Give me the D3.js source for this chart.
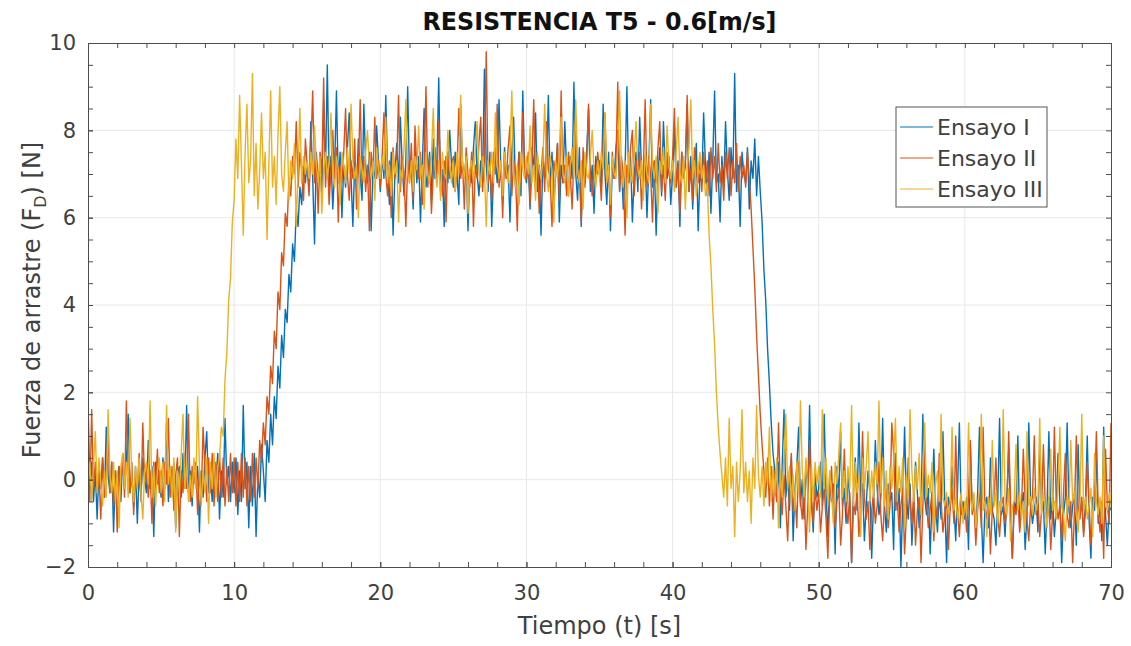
<!DOCTYPE html>
<html>
<head>
<meta charset="utf-8">
<script src="https://cdn.jsdelivr.net/npm/d3@7"></script>
<style>
  body { margin: 0; background: #fff; }
  svg { display: block; }
</style>
</head>
<body>
<script>
// Drag force measurements, sampled every 0.125 s from t = 0 to t = 70 s (one row = 5 s)
const sampleStep = 0.125;

const ensayo1 = [
  1.9,-0.3,0.4,-0.5,0.2,-0.9,0.3,-0.2,0.5,-0.4,1.2,0.1,-0.3,0.4,-1.2,0.2,-0.1,0.3,-0.5,0.6,-0.2,0.4,1.5,-0.3,0.1,-0.6,0.3,-1.0,0.2,-0.4,0.5,0.0,-0.3,0.9,-0.2,0.3,-1.3,0.4,-0.1,0.2,
  -0.4,0.5,-0.2,1.3,-0.5,0.2,-0.3,0.4,-1.1,0.1,0.3,-0.4,0.6,-0.2,1.7,-0.3,0.2,-0.6,0.4,-0.1,0.3,-1.2,0.2,-0.4,0.5,1.1,-0.3,0.1,-0.5,0.3,-0.2,0.6,-0.9,0.2,-0.4,1.4,-0.1,0.3,-0.5,0.4,
  -0.3,0.5,-0.8,0.2,-0.5,1.7,-0.2,0.4,-1.1,0.3,-0.6,0.6,-1.3,0.1,-0.4,0.8,0.2,-0.5,0.9,0.4,1.5,0.8,1.9,1.4,2.6,2.1,3.3,2.8,3.9,3.6,4.7,4.3,5.4,5.0,6.2,5.8,6.7,6.3,7.2,6.8,
  7.3,6.6,8.2,6.9,5.4,7.5,6.8,7.2,6.5,8.7,7.0,9.5,6.7,7.4,6.2,7.1,8.9,6.8,7.5,6.0,7.2,6.7,7.6,8.4,6.9,5.8,7.3,6.6,7.8,7.0,6.4,8.6,7.2,6.8,7.5,5.7,7.1,6.9,8.1,7.3,
  6.6,7.4,6.9,8.8,7.1,6.3,7.5,5.6,7.0,7.7,6.8,8.3,7.2,6.5,7.3,9.0,6.9,7.1,6.2,7.6,6.8,7.4,5.9,7.2,8.5,6.7,7.0,7.5,6.4,7.8,6.9,7.3,9.2,6.6,7.1,5.8,7.4,6.8,8.0,7.2,
  6.7,7.5,7.0,6.3,8.6,7.2,6.9,7.4,5.7,7.1,6.8,7.6,8.2,7.0,6.5,7.3,6.9,9.4,7.2,6.6,7.5,5.8,7.0,7.3,6.8,8.7,7.1,6.4,7.6,6.9,7.2,5.9,7.4,8.3,6.7,7.0,7.5,6.5,8.9,7.1,
  6.8,7.3,6.2,7.6,7.0,8.4,6.6,7.2,5.6,7.4,6.9,7.1,8.8,6.7,7.5,6.3,7.0,7.7,5.9,7.2,6.8,8.2,7.1,6.5,7.4,6.9,9.1,7.0,6.4,7.6,5.8,7.3,6.8,7.5,8.5,6.6,7.2,6.1,7.4,7.0,
  7.3,6.7,8.6,7.0,6.3,7.5,5.7,7.2,6.9,7.6,8.0,6.6,7.3,6.2,7.1,9.0,6.8,7.4,5.9,7.0,7.5,6.6,8.3,7.1,6.8,7.4,6.0,7.2,8.7,6.7,7.3,5.6,7.0,7.6,6.5,8.2,7.1,6.9,7.4,6.3,
  7.0,8.1,6.7,7.3,5.8,7.5,6.9,7.2,8.6,6.6,7.4,6.2,7.1,7.7,5.7,7.0,6.8,8.4,7.2,6.5,7.5,6.1,7.3,8.9,6.8,7.0,5.9,7.4,6.7,8.2,7.1,6.4,7.6,6.9,9.3,6.6,7.2,5.8,7.5,7.0,
  6.8,7.6,6.2,7.3,6.9,7.8,6.5,7.4,6.6,5.9,4.8,4.1,3.0,2.2,1.3,0.6,0.2,-0.5,0.4,-1.1,0.3,1.6,-0.4,0.1,-0.7,0.5,-1.4,-0.2,0.3,1.2,-0.6,0.0,-0.9,0.4,-0.3,1.7,-0.5,-1.2,0.2,-0.4,
  -0.2,0.4,-0.6,1.5,-0.3,-1.3,0.1,-0.5,-0.1,-1.7,0.3,-0.4,1.1,-0.6,-0.2,-1.0,0.2,-0.5,-1.9,-0.3,0.5,-0.7,1.3,-0.4,-0.1,-1.4,-0.6,0.2,-0.3,-1.8,-0.5,0.9,-0.2,-0.8,-0.4,1.4,-0.6,-1.2,-0.1,-0.5,
  -0.3,-1.6,0.6,-0.7,-0.2,-2.0,-0.5,1.2,-0.4,-0.9,-0.1,-1.5,-0.6,0.4,-0.3,-1.1,-0.7,1.5,-0.4,-0.8,-0.2,-1.7,-0.5,0.7,-0.6,-1.2,-0.3,-0.9,1.1,-0.5,-1.9,-0.4,-0.7,0.3,-0.6,-1.4,-0.2,1.3,-0.8,-0.5,
  -0.9,-0.4,-1.6,0.8,-0.7,-0.5,-1.2,-0.3,1.2,-0.8,-1.9,-0.6,-0.4,-1.1,0.5,-0.7,-0.9,-1.5,-0.5,1.4,-0.8,-0.6,-1.3,-0.4,0.7,-0.9,-1.8,-0.5,-0.7,1.0,-1.1,-0.6,-0.3,-1.6,-0.8,1.3,-0.5,-1.0,-0.7,-0.4,
  -1.2,0.9,-0.7,-0.5,-1.7,-0.6,1.1,-0.9,-0.4,-1.3,-0.7,0.6,-0.5,-1.9,-0.8,-0.4,1.3,-0.7,-1.1,-0.6,-0.3,-1.5,0.8,-0.8,-0.5,-1.2,-0.6,1.0,-0.9,-1.8,-0.4,-0.7,0.5,-1.0,-0.6,-1.4,1.2,-0.8,-1.5,-0.6,
  -0.7
];

const ensayo2 = [
  0.3,-0.5,1.6,-0.2,0.4,-0.3,0.1,-0.9,0.5,-0.4,0.2,1.1,-0.3,0.4,-0.6,0.2,-1.2,0.3,-0.1,0.5,-0.4,1.8,0.2,-0.3,0.4,-0.8,0.1,-0.2,0.6,-0.5,1.3,-0.1,0.3,-0.4,0.2,-1.0,0.4,-0.2,0.7,-0.3,
  0.2,-0.6,0.4,-0.1,1.4,-0.4,0.3,-0.7,0.1,0.5,-1.3,0.2,-0.3,0.6,-0.2,1.5,-0.5,0.3,-0.1,0.4,-0.8,0.2,-0.4,1.2,0.3,-0.5,0.5,-0.3,0.6,-0.6,0.4,-0.5,0.6,-0.4,0.5,-0.6,0.3,-0.5,0.6,-0.3,
  0.5,-0.6,0.4,-0.5,0.6,-0.4,0.5,-0.6,0.3,-0.5,0.6,-0.4,0.5,-0.2,0.9,0.4,1.3,0.8,1.9,1.5,2.6,2.2,3.4,3.0,4.3,3.9,5.2,4.9,6.1,5.8,6.9,6.5,7.4,7.0,8.2,6.7,7.5,7.1,6.4,7.8,
  7.2,6.5,7.6,8.9,6.8,7.3,6.1,7.5,7.0,9.2,6.7,7.4,6.3,7.1,8.0,6.9,7.6,5.9,7.2,6.8,7.5,8.5,7.0,6.4,7.3,6.9,7.8,6.2,7.1,8.7,6.8,7.4,6.6,7.2,5.7,7.5,7.0,8.3,6.9,7.3,
  6.7,7.4,8.4,7.0,6.5,7.3,6.0,7.6,6.9,7.2,8.8,6.6,7.4,7.0,5.8,7.3,6.8,7.7,6.4,8.1,7.1,6.9,7.5,6.3,7.2,9.0,6.7,7.4,6.1,7.0,7.6,6.8,8.2,7.1,6.5,7.3,5.9,7.5,6.9,7.2,
  7.4,6.6,7.1,8.5,6.9,7.3,6.2,7.6,7.0,6.7,7.5,5.8,7.2,6.9,7.7,8.3,6.6,7.3,9.8,6.8,7.1,6.4,7.5,7.0,8.6,6.7,7.2,6.0,7.4,6.9,7.6,8.1,6.5,7.3,7.0,5.7,7.5,6.8,8.4,7.1,
  6.9,7.5,6.3,7.2,8.7,6.8,7.4,6.1,7.0,7.6,6.6,8.2,7.1,6.9,5.8,7.3,7.0,7.7,6.4,8.9,6.8,7.2,6.5,7.5,7.0,6.2,7.4,8.3,6.9,7.1,5.9,7.6,6.7,7.3,8.6,7.0,6.5,7.2,6.8,7.5,
  7.1,6.4,7.7,8.4,6.8,7.2,6.0,7.5,6.9,7.3,9.1,6.6,7.4,7.0,5.6,7.2,6.8,7.6,8.0,6.5,7.3,6.9,7.5,6.2,7.1,8.7,6.7,7.4,7.0,5.9,7.3,6.8,7.6,8.2,6.6,7.2,6.4,7.5,7.0,6.8,
  7.4,8.5,6.7,7.2,6.1,7.5,6.9,7.3,8.8,6.6,7.1,6.4,7.6,7.0,6.8,7.4,6.6,7.5,6.8,7.3,6.5,7.6,6.9,7.4,6.6,7.7,6.8,7.2,6.4,7.5,6.9,7.6,6.5,7.3,6.8,7.7,6.6,7.4,6.9,7.2,
  6.7,7.5,6.9,6.2,5.3,4.4,3.3,2.4,1.5,0.8,0.2,-0.4,0.5,-0.6,0.3,-0.9,0.2,-0.5,1.3,-0.3,-0.8,0.1,-0.6,-1.4,-0.2,0.6,-0.7,-0.3,-1.1,0.4,-0.5,-0.9,-0.1,-1.6,-0.6,0.9,-0.4,-1.0,-0.2,-0.7,
  -0.3,-1.2,-0.6,-0.2,-0.9,-1.8,-0.4,0.3,-0.7,-1.1,-0.5,-0.2,-1.5,-0.8,0.7,-0.6,-1.0,-0.3,-1.9,-0.5,-0.8,-0.2,-1.3,-0.6,1.1,-0.4,-0.9,-0.5,-1.6,-0.7,-0.3,-1.0,-0.6,0.4,-0.8,-1.4,-0.5,-0.2,-1.1,-0.6,
  1.3,0.6,-0.7,-0.4,-1.2,-0.6,-0.2,-1.7,-0.8,0.5,-0.5,-1.0,-0.3,-1.5,-0.7,-0.4,-1.9,-0.6,0.8,-0.5,-1.1,-0.7,-0.3,-1.4,-0.6,-0.9,0.6,-0.5,-1.2,-0.8,-0.4,-1.6,-0.6,-0.2,-1.0,1.0,-0.7,-1.3,-0.5,-0.8,
  -0.6,-1.2,-0.4,0.9,-0.8,-0.5,-1.5,-0.7,-0.3,-1.1,1.2,-0.6,-0.9,-0.4,-1.7,-0.7,-0.5,0.5,-0.8,-1.3,-0.6,-0.4,-1.0,-0.7,1.1,-0.5,-1.8,-0.6,-0.8,-0.3,-1.2,-0.7,0.7,-0.5,-0.9,-1.4,-0.6,-0.4,1.0,-0.8,
  -0.5,-1.3,-0.7,0.8,-0.6,-1.0,-0.4,-1.6,-0.8,1.2,-0.5,-0.9,-0.6,-1.4,-0.3,0.6,-0.8,-1.1,-0.5,-1.9,-0.7,1.0,-0.6,-0.9,-0.4,-1.3,-0.7,0.4,-0.5,-1.5,-0.8,-0.3,1.1,-0.7,-1.2,-0.5,-1.8,0.7,-0.6,-1.0,
  1.3
];

const ensayo3 = [
  -0.2,0.4,-0.5,0.3,1.1,-0.3,0.5,-0.1,-0.6,0.2,-0.4,1.6,0.1,-0.3,0.4,-0.5,0.2,-1.1,0.3,0.6,-0.2,0.4,-0.4,1.4,0.0,-0.5,0.3,-0.2,0.5,-0.3,-0.9,0.2,0.4,-0.1,1.8,-0.4,0.3,-0.6,0.2,0.5,
  -0.3,0.4,-0.5,1.7,-0.1,0.3,-0.4,0.5,-1.2,0.2,-0.3,0.6,1.5,-0.2,0.4,-0.5,0.1,-0.4,0.5,-0.2,1.9,0.3,-0.6,0.2,-0.3,0.5,-1.0,0.4,-0.2,0.6,-0.4,0.3,0.5,1.2,1.0,2.3,2.9,4.1,4.6,5.9,
  6.4,7.8,6.9,8.8,7.2,5.6,7.5,8.6,6.8,7.3,9.3,6.5,7.7,6.2,7.1,8.4,6.9,7.5,5.5,7.2,8.9,6.7,7.4,6.3,7.9,9.0,7.0,6.6,7.5,8.2,6.4,7.3,6.9,7.7,5.8,7.1,8.5,6.8,7.4,7.0,
  7.3,6.9,7.5,7.0,8.1,7.2,6.8,7.4,6.1,7.1,7.5,6.9,7.3,8.4,7.0,6.7,7.4,7.1,6.3,7.5,7.2,6.8,7.6,7.0,8.6,7.3,6.9,7.2,6.0,7.4,7.1,6.8,7.5,8.0,7.2,6.9,7.3,6.4,7.6,7.1,
  6.9,7.4,7.1,8.3,6.8,7.2,6.5,7.5,7.0,7.3,5.9,7.1,6.9,7.6,8.7,7.0,6.8,7.3,6.6,7.4,7.1,8.1,6.9,7.2,6.2,7.5,7.0,6.8,7.4,8.5,7.1,6.7,7.3,6.4,7.5,7.0,6.9,8.0,7.2,6.8,
  7.3,6.6,7.5,7.0,8.8,7.2,6.9,7.4,6.1,7.1,7.3,6.8,7.6,8.2,7.0,6.7,7.4,7.1,5.8,7.3,7.0,7.5,6.8,8.4,7.2,6.9,7.3,6.5,7.5,7.1,6.8,7.4,8.9,7.0,6.7,7.2,6.3,7.5,7.1,6.9,
  7.4,7.0,8.1,6.8,7.2,6.4,7.5,7.1,6.9,7.3,8.6,7.0,6.6,7.4,7.1,5.9,7.3,6.9,7.5,8.3,7.0,6.8,7.4,6.5,7.2,7.6,6.9,8.7,7.1,6.8,7.3,6.2,7.5,7.0,6.9,7.4,8.0,7.1,6.7,7.3,
  6.9,7.5,7.1,8.4,6.8,7.2,6.3,7.4,7.0,6.9,7.6,8.9,7.1,6.7,7.3,6.0,7.5,7.0,6.8,7.4,8.2,7.1,6.9,7.3,6.4,7.5,7.0,6.8,8.6,7.2,6.9,7.4,6.1,7.3,7.0,7.6,6.8,8.1,7.2,6.9,
  7.3,6.6,7.5,8.3,7.0,6.8,7.4,6.2,7.2,7.6,8.7,6.9,7.3,6.5,7.1,7.5,6.9,7.2,6.5,6.8,5.6,4.9,3.9,3.1,2.0,1.2,0.6,0.1,-0.4,0.5,-0.6,1.4,-0.2,0.3,-1.3,0.4,-0.5,0.2,1.6,-0.3,
  0.4,-0.5,0.2,-1.0,0.5,-0.2,1.7,0.1,-0.4,0.3,-0.6,0.4,-0.1,1.2,-0.5,0.3,-0.3,0.5,-1.1,0.2,-0.4,0.6,1.5,-0.2,0.3,-0.5,0.1,-0.7,0.4,-0.3,1.8,0.2,-0.4,0.5,-0.2,-1.2,0.3,-0.5,0.4,-0.1,
  0.3,-0.4,1.6,-0.2,0.5,-0.6,0.2,-0.3,-1.0,0.4,-0.1,0.6,1.3,-0.4,0.2,-0.5,0.3,-0.2,1.7,-0.6,0.4,-0.3,0.1,-1.3,0.5,-0.2,0.3,1.1,-0.5,0.2,-0.4,0.4,-0.1,1.8,-0.3,0.5,-0.6,0.2,-0.9,0.3,
  -0.2,0.4,1.4,-0.5,0.3,-0.3,0.5,-1.1,0.1,-0.4,1.6,0.2,-0.5,0.3,-0.2,0.6,-0.8,0.2,1.3,-0.4,0.1,-0.3,0.4,-1.2,-0.1,0.2,-0.5,1.5,-0.4,-0.6,-0.3,-0.8,-0.5,1.2,-0.7,-0.4,-0.9,-0.6,-0.3,-1.0,
  -0.5,-0.8,1.3,-0.4,-0.7,-0.3,-1.1,-0.6,-0.2,1.5,-0.7,-0.5,-1.3,-0.4,-0.8,0.9,-0.6,-0.3,-1.0,-0.5,-0.7,1.6,-0.4,-0.8,-0.2,-1.4,-0.6,-0.5,0.8,-0.7,-0.3,-0.9,-0.5,-1.2,1.1,-0.6,-0.4,-0.8,-0.2,-0.7,
  -0.5,1.4,-0.8,-0.3,-0.6,-1.1,-0.4,0.7,-0.7,-0.5,-0.9,-0.2,1.2,-0.6,-0.8,-1.4,-0.4,-0.6,0.9,-0.5,-0.3,-0.8,-1.2,-0.5,1.5,-0.7,-0.4,-0.9,-0.6,-0.2,-1.3,0.6,-0.5,-0.8,-0.4,-1.0,1.0,-0.6,-0.7,-0.3,
  -0.6
];

const seriesNames = ["Ensayo I", "Ensayo II", "Ensayo III"];
const seriesColors = ["#0072BD", "#D95319", "#EDB120"];
const xTicks = [0, 10, 20, 30, 40, 50, 60, 70];
const yTicks = [-2, 0, 2, 4, 6, 8, 10];

const W = 1131, H = 646;
const plotLeft = 88, plotRight = 1111, plotTop = 43, plotBottom = 567;
const font = "'DejaVu Sans', sans-serif";
const axisColor = "#4d4d4d";
const textColor = "#404040";

const x = d3.scaleLinear().domain([0, 70]).range([plotLeft, plotRight]);
const y = d3.scaleLinear().domain([-2, 10]).range([plotBottom, plotTop]);

const svg = d3.select("body").append("svg").attr("width", W).attr("height", H);

// Grid
const grid = svg.append("g").attr("stroke", "#e8e8e8").attr("stroke-width", 1);
grid.selectAll(".gx").data(xTicks.slice(1, -1)).join("line")
  .attr("x1", d => x(d)).attr("x2", d => x(d)).attr("y1", plotTop).attr("y2", plotBottom);
grid.selectAll(".gy").data(yTicks.slice(1, -1)).join("line")
  .attr("x1", plotLeft).attr("x2", plotRight).attr("y1", d => y(d)).attr("y2", d => y(d));

// Series
svg.append("clipPath").attr("id", "plotArea").append("rect")
  .attr("x", plotLeft).attr("y", plotTop)
  .attr("width", plotRight - plotLeft).attr("height", plotBottom - plotTop);

const line = d3.line().x((d, i) => x(i * sampleStep)).y(d => y(d));
const plot = svg.append("g").attr("clip-path", "url(#plotArea)");
[ensayo1, ensayo2, ensayo3].forEach((s, k) => {
  plot.append("path").datum(s)
    .attr("fill", "none")
    .attr("stroke", seriesColors[k])
    .attr("stroke-width", 1.4)
    .attr("stroke-linejoin", "round")
    .attr("d", line);
});

// Axes (ticks inward on all four sides)
const xMinor = d3.range(0, 70.01, 2);
const yMinor = d3.range(-2, 10.01, 0.5);
function styleAxis(g) {
  g.select(".domain").attr("stroke", axisColor);
  g.selectAll(".tick line").attr("stroke", axisColor);
  g.selectAll("text").attr("fill", textColor).style("font-family", font).style("font-size", "21px");
}
svg.append("g").attr("transform", `translate(0,${plotBottom})`)
  .call(d3.axisBottom(x).tickValues(xMinor).tickSize(-5).tickFormat(""))
  .call(styleAxis);
svg.append("g").attr("transform", `translate(0,${plotBottom})`)
  .call(d3.axisBottom(x).tickValues(xTicks).tickSize(-5).tickPadding(18).tickFormat(d3.format("d")))
  .call(styleAxis);
svg.append("g").attr("transform", `translate(0,${plotTop})`)
  .call(d3.axisTop(x).tickValues(xMinor).tickSize(-5).tickFormat(""))
  .call(styleAxis);
svg.append("g").attr("transform", `translate(${plotLeft},0)`)
  .call(d3.axisLeft(y).tickValues(yMinor).tickSize(-5).tickFormat(""))
  .call(styleAxis);
svg.append("g").attr("transform", `translate(${plotLeft},0)`)
  .call(d3.axisLeft(y).tickValues(yTicks).tickSize(-5).tickPadding(12).tickFormat(d3.format("d")))
  .call(styleAxis);
svg.append("g").attr("transform", `translate(${plotRight},0)`)
  .call(d3.axisRight(y).tickValues(yMinor).tickSize(-5).tickFormat(""))
  .call(styleAxis);

// Title
svg.append("text")
  .attr("x", (plotLeft + plotRight) / 2).attr("y", 30)
  .attr("text-anchor", "middle")
  .attr("textLength", 354).attr("lengthAdjust", "spacingAndGlyphs")
  .style("font-family", font).style("font-weight", "bold").style("font-size", "24px")
  .attr("fill", "#111")
  .text("RESISTENCIA T5 - 0.6[m/s]");

// Axis labels
svg.append("text")
  .attr("x", (plotLeft + plotRight) / 2).attr("y", 634)
  .attr("text-anchor", "middle")
  .style("font-family", font).style("font-size", "24px").attr("fill", textColor)
  .text("Tiempo (t) [s]");

const yl = svg.append("text")
  .attr("transform", `translate(40,${(plotTop + plotBottom) / 2 - 5}) rotate(-90)`)
  .attr("text-anchor", "middle")
  .style("font-family", font).style("font-size", "24px").attr("fill", textColor);
yl.append("tspan").text("Fuerza de arrastre (F");
yl.append("tspan").attr("dy", 6).style("font-size", "16px").text("D");
yl.append("tspan").attr("dy", -6).text(") [N]");

// Legend
const lg = svg.append("g");
lg.append("rect").attr("x", 896).attr("y", 107).attr("width", 151).attr("height", 100)
  .attr("fill", "#fff").attr("stroke", "#555").attr("stroke-width", 1);
seriesNames.forEach((name, k) => {
  const cy = 127 + k * 31;
  lg.append("line").attr("x1", 900).attr("x2", 933).attr("y1", cy).attr("y2", cy)
    .attr("stroke", seriesColors[k]).attr("stroke-width", 1);
  lg.append("text").attr("x", 937).attr("y", cy + 8)
    .style("font-family", font).style("font-size", "22px").attr("fill", textColor)
    .text(name);
});
</script>
</body>
</html>
